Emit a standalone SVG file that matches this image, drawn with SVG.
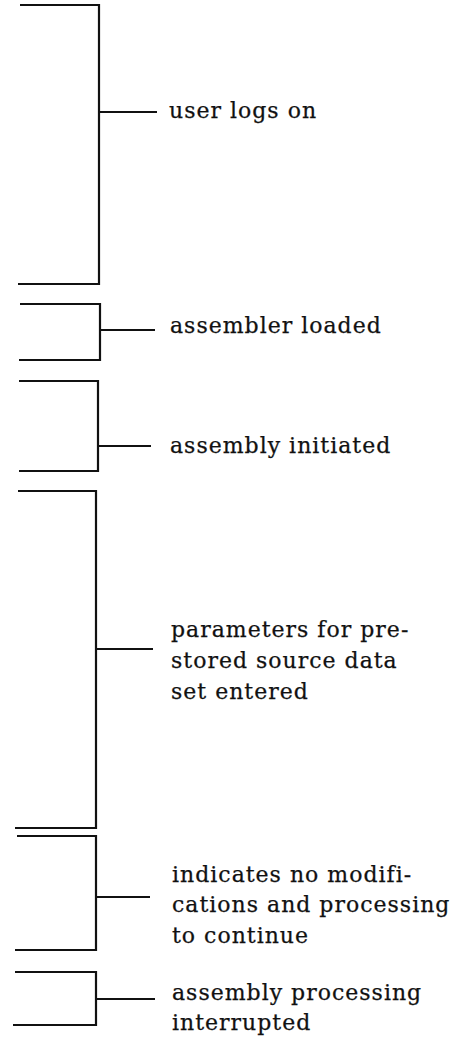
<svg xmlns="http://www.w3.org/2000/svg" width="466" height="1039" viewBox="0 0 466 1039">
<style>
.br{fill:none;stroke:#111;stroke-width:2.2;stroke-linejoin:miter}
.tk{stroke:#111;stroke-width:2}
text{font-family:"DejaVu Serif","Liberation Serif",serif;font-size:22px;letter-spacing:1px;fill:#111;stroke:#111;stroke-width:0.25}
</style>
<rect width="466" height="1039" fill="#fff"/>
<g id="connectors">
<line class="tk" x1="100" y1="112" x2="157" y2="112"/>
<line class="tk" x1="101" y1="330" x2="155" y2="330"/>
<line class="tk" x1="99" y1="446" x2="151" y2="446"/>
<line class="tk" x1="97" y1="649" x2="153" y2="649"/>
<line class="tk" x1="97" y1="897" x2="150" y2="897"/>
<line class="tk" x1="97" y1="999" x2="155" y2="999"/>
</g>
<g id="node1"><path class="br" d="M20 5H99V284H18"/><text x="169" y="118">user logs on</text></g>
<g id="node2"><path class="br" d="M20 304H100V360H19"/><text x="170" y="333">assembler loaded</text></g>
<g id="node3"><path class="br" d="M19 381H98V471H19"/><text x="170" y="453">assembly initiated</text></g>
<g id="node4"><path class="br" d="M18 491H96V828H15"/><text x="171" y="637">parameters for pre-</text><text x="171" y="668">stored source data</text><text x="171" y="699">set entered</text></g>
<g id="node5"><path class="br" d="M17 836H96V950H15"/><text x="172" y="882">indicates no modifi-</text><text x="172" y="912">cations and processing</text><text x="172" y="943">to continue</text></g>
<g id="node6"><path class="br" d="M15 972H96V1025H13"/><text x="172" y="1000">assembly processing</text><text x="172" y="1030">interrupted</text></g>
</svg>
